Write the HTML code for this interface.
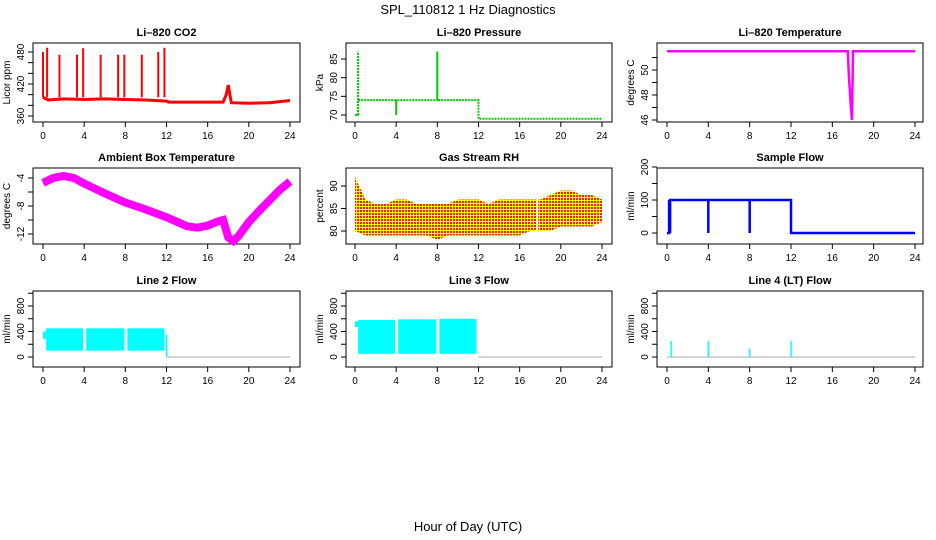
<!DOCTYPE html>
<html><head><meta charset="utf-8"><style>
body{margin:0;background:#fff;}
svg{display:block;font-family:"Liberation Sans",sans-serif;}
.t{font-weight:bold;font-size:11px;text-anchor:middle;}
.tk{font-size:10px;}
</style></head><body>
<svg id="s" width="936" height="540" xmlns="http://www.w3.org/2000/svg">
<text x="468" y="14" font-size="13" text-anchor="middle">SPL_110812  1 Hz Diagnostics</text>
<text x="468" y="531" font-size="13" text-anchor="middle">Hour of Day (UTC)</text>
</svg>
<script>
const xTicks=[0,4,8,12,16,20,24];
// CO2
const co2Hours=[0,0.5,2,4,6,8,10,12,12.2,16,17.5,17.8,18,18.3,20,22,24];
const co2Vals=[395,390,392,391,392,391,390,388,386,386,386,400,418,385,384,385,389];
const co2SpikeHours=[0,0.4,1.6,3.3,3.9,5.6,7.3,7.9,9.6,11.2,11.8];
const co2SpikeVals=[480,488,475,475,487,475,475,475,475,480,488];
// Pressure
const presHours=[0,0.3,0.3,4,4,4,8,8,8,12,12,24];
const presVals=[70,70,74,74,70,74,74,87,74,74,69,69];
// Li-820 temperature
const tempHours=[0,17.5,17.6,17.8,17.9,18,24];
const tempVals=[51.5,51.5,49.5,47,46,51.5,51.5];
// Ambient
const ambHours=[0,1,2,3,4,6,8,10,12,14,15,16,17,17.5,18,18.5,19,20,21,22,23,24];
const ambVals=[-4.7,-4,-3.7,-4,-4.8,-6.2,-7.5,-8.5,-9.6,-10.9,-11.1,-10.8,-10.2,-10,-12.5,-13,-12.3,-10.3,-8.7,-7.2,-5.7,-4.5];
// RH bands
const rhHours=[0,1,2,3,4,5,6,7,8,9,10,11,12,13,14,15,16,17,17.6,18,19,20,21,22,23,24];
const rhLo=[80,79,79,79,79,79,79,79,78,79,79,79,79,79,79,79,79,80,80,80,80,81,81,81,81,82];
const rhHi=[92,87,86,86,87,87,86,86,86,86,87,87,87,86,87,87,87,87,87,87,88,89,89,88,88,87];
// Sample flow
const sfHours=[0,0.2,0.2,0.3,0.3,4,4,4,8,8,8,12,12,24];
const sfVals=[0,0,100,0,100,100,0,100,100,0,100,100,0,0];
// Line flows: band segments [start,end], low, high
const l2Start=[0.3,4.2,8.2];const l2End=[3.9,7.9,11.8];const l2Lo=[100,100,100];const l2Hi=[450,450,450];
const l3Start=[0.3,4.2,8.2];const l3End=[3.9,7.9,11.8];const l3Lo=[50,50,50];const l3Hi=[580,590,600];
const l4Hours=[0.4,4,8,12];const l4Vals=[250,250,130,250];

const S=document.getElementById('s');const NS='http://www.w3.org/2000/svg';
function el(t,a,p){const e=document.createElementNS(NS,t);for(const k in a)e.setAttribute(k,a[k]);(p||S).appendChild(e);return e;}
function panel(name,title,ylab,bx,by,x0,x24,ymap,yticks,ylabels){
  const g=el('g',{});
  
  
  const [l,r]=bx,[t,b]=by;
  const box=el('rect',{x:l,y:t,width:r-l,height:b-t,fill:'none',stroke:'#000'},g);
  
  
  const tt=el('text',{x:(l+r)/2,y:t-7,class:'t'},g);tt.textContent=title;
  
  
  const X=h=>x0+(x24-x0)*h/24;
  for(const h of xTicks){el('line',{x1:X(h),x2:X(h),y1:b,y2:b+5,stroke:'#000'},g);
    const tx=el('text',{x:X(h),y:b+17,class:'tk','text-anchor':'middle'},g);tx.textContent=h;
    
    }
  el('line',{x1:X(0),x2:X(24),y1:b+5,y2:b+5,stroke:'none'},g);
  for(const v of yticks){el('line',{x1:l,x2:l-5,y1:ymap(v),y2:ymap(v),stroke:'#000'},g);}
  for(const v of ylabels){const tx=el('text',{x:0,y:0,class:'tk','text-anchor':'middle',transform:`translate(${l-9},${ymap(v)}) rotate(-90)`},g);tx.textContent=v;
    
    }
  const yl=el('text',{x:0,y:0,class:'tk','text-anchor':'middle',transform:`translate(${l-23},${(t+b)/2}) rotate(-90)`},g);yl.textContent=ylab;
  
  
  return {g,X};
}
function lin(v0,p0,v1,p1){return v=>p0+(v-v0)*(p1-p0)/(v1-v0);}
function path(g,X,Y,hs,vs,st,w,name,extra){
  let d='';hs.forEach((h,i)=>{d+=(i?'L':'M')+X(h).toFixed(1)+','+Y(vs[i]).toFixed(1);});
  const p=el('path',Object.assign({d,fill:'none',stroke:st,'stroke-width':w},extra||{}),g);
  
  return p;
}
const R1=[43,122],R2=[168,244],R3=[291,367];
const C1=[33,300],C2=[346,612],C3=[657,923];
const cx1=[43,290],cx2=[355,602],cx3=[667,915];
// CO2
{const Y=lin(360,116,480,52);const {g,X}=panel('co2-panel','Li\u2013820 CO2','Licor ppm',C1,R1,cx1[0],cx1[1],Y,[360,380,400,420,440,460,480],[360,420,480]);
 path(g,X,Y,co2Hours,co2Vals,'#f00',3,'co2-line');
 co2SpikeHours.forEach((h,i)=>{const l=el('line',{x1:X(h),x2:X(h),y1:Y(co2Vals[0]),y2:Y(co2SpikeVals[i]),stroke:'#f00','stroke-width':2},g);
  
  });}
// Pressure
{const Y=lin(70,115,85,59);const {g,X}=panel('pressure-panel','Li\u2013820 Pressure','kPa',C2,R1,cx2[0],cx2[1],Y,[70,75,80,85],[70,75,80,85]);
 path(g,X,Y,presHours,presVals,'#0c0',2,'pressure-line',{'stroke-dasharray':'2,1'});
 const s=el('line',{x1:X(0.3),x2:X(0.3),y1:Y(70),y2:Y(87),stroke:'#0c0','stroke-width':2,'stroke-dasharray':'2,1'},g);
 
 }
// Temperature
{const Y=lin(46,120,50,70);const {g,X}=panel('li820-temperature-panel','Li\u2013820 Temperature','degrees C',C3,R1,cx3[0],cx3[1],Y,[46,47,48,49,50,51],[46,48,50]);
 path(g,X,Y,tempHours,tempVals,'#f0f',2.5,'temperature-line');}
// Ambient
{const Y=lin(-4,178,-12,234);const {g,X}=panel('ambient-temperature-panel','Ambient Box Temperature','degrees C',C1,R2,cx1[0],cx1[1],Y,[-4,-6,-8,-10,-12],[-4,-8,-12]);
 path(g,X,Y,ambHours,ambVals,'#f0f',8,'ambient-line');}
// RH
{const Y=lin(80,231,90,186);const {g,X}=panel('gas-stream-rh-panel','Gas Stream RH','percent',C2,R2,cx2[0],cx2[1],Y,[80,85,90],[80,85,90]);
 const defs=el('defs',{},g);const pt=el('pattern',{id:'rhp',width:3,height:3,patternUnits:'userSpaceOnUse'},defs);
 el('rect',{width:3,height:3,fill:'#ff0'},pt);el('rect',{width:2,height:2,fill:'#e22'},pt);
 let d='';rhHours.forEach((h,i)=>{d+=(i?'L':'M')+X(h)+','+Y(rhHi[i]);});
 for(let i=rhHours.length-1;i>=0;i--)d+='L'+X(rhHours[i])+','+Y(rhLo[i]);
 const p=el('path',{d:d+'Z',fill:'url(#rhp)'},g);
 
 
 el('rect',{x:X(17.6),y:Y(88),width:2,height:Y(79)-Y(88),fill:'#fff'},g);}
// Sample flow
{const Y=lin(0,233,200,167);const {g,X}=panel('sample-flow-panel','Sample Flow','ml/min',C3,R2,cx3[0],cx3[1],Y,[0,50,100,150,200],[0,100,200]);
 path(g,X,Y,sfHours,sfVals,'#00f',2.5,'sample-flow-line');}
// Line flows
function flow(name,title,C,cx,st,en,lo,hi,zeroFrom){
 const Y=lin(0,357,800,306);const {g,X}=panel(name,title,'ml/min',C,R3,cx[0],cx[1],Y,[0,200,400,600,800,1000],[0,400,800]);
 const z=el('line',{x1:X(zeroFrom),x2:X(24),y1:Y(0),y2:Y(0),stroke:'#aaa'},g);
 
 
 st.forEach((s,i)=>{const r=el('rect',{x:X(s),y:Y(hi[i]),width:X(en[i])-X(s),height:Y(lo[i])-Y(hi[i]),fill:'#0ff'},g);
  
  });
 return {g,X,Y};
}
{const {g,X,Y}=flow('line2-flow-panel','Line 2 Flow',C1,cx1,l2Start,l2End,l2Lo,l2Hi,12);
 el('rect',{x:X(0),y:Y(400),width:X(0.3)-X(0),height:Y(280)-Y(400),fill:'#0ff'},g);
 el('line',{x1:X(12),x2:X(12),y1:Y(0),y2:Y(350),stroke:'#0ff','stroke-width':1.5},g);}
{const {g,X,Y}=flow('line3-flow-panel','Line 3 Flow',C2,cx2,l3Start,l3End,l3Lo,l3Hi,12);
 el('rect',{x:X(0),y:Y(560),width:X(0.3)-X(0),height:Y(470)-Y(560),fill:'#0ff'},g);}
{const {g,X,Y}=flow('line4-flow-panel','Line 4 (LT) Flow',C3,cx3,[],[],[],[],0);
 l4Hours.forEach((h,i)=>{const l=el('line',{x1:X(h),x2:X(h),y1:Y(0),y2:Y(l4Vals[i]),stroke:'#0ff','stroke-width':1.5},g);
  
  });}
</script>
</body></html>
